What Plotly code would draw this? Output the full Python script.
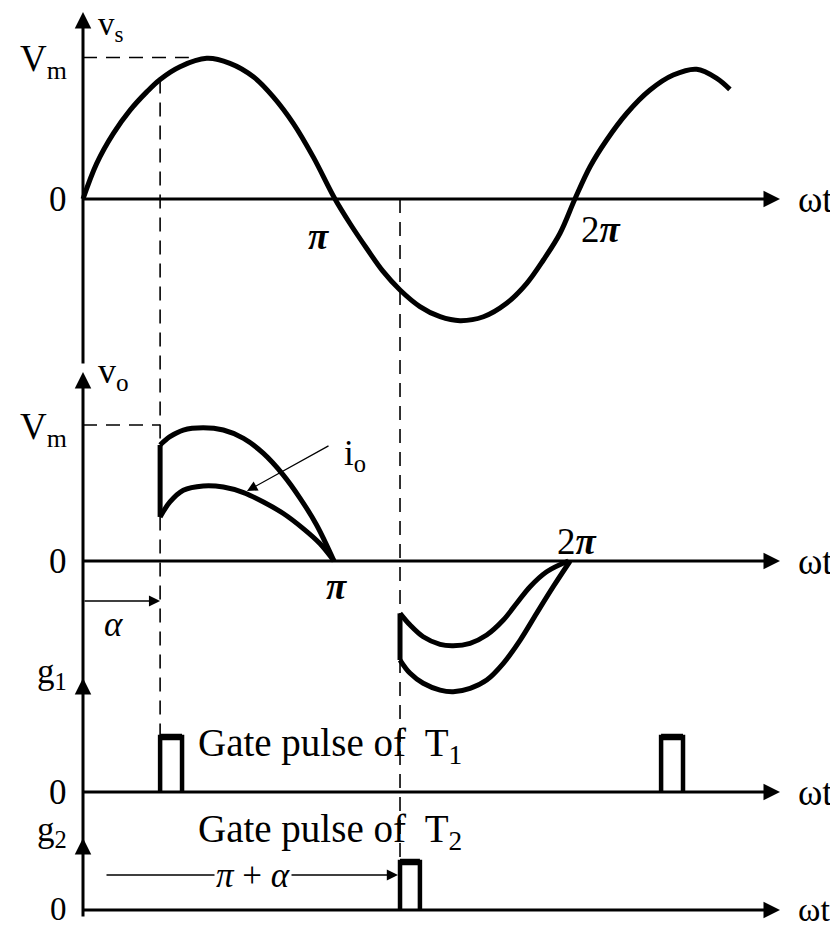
import plotly.graph_objects as go

# The page body has an 8px default margin, so the figure is drawn 8px in from the corner.
PAGE_MARGIN = 8
W, H = 838 - PAGE_MARGIN, 928 - PAGE_MARGIN
FONT = "Liberation Serif"

# ---------------- data (x in units of pi, y in panel units) ----------------
vs_x = [0.0, 0.054, 0.120, 0.187, 0.253, 0.306, 0.385, 0.491, 0.583, 0.676, 0.755,
        0.835, 0.914, 1.0, 1.060, 1.126, 1.190, 1.258, 1.337, 1.417, 1.496, 1.589, 1.681,
        1.761, 1.827, 1.893, 1.952, 2.012, 2.078, 2.158, 2.250, 2.342, 2.435, 2.515, 2.567]
vs_y = [0.0, 0.25, 0.462, 0.628, 0.757, 0.845, 0.935, 0.994, 0.959, 0.864, 0.722,
        0.533, 0.296, 0.0, -0.175, -0.350, -0.510, -0.643, -0.760, -0.832, -0.860, -0.832, -0.737,
        -0.596, -0.431, -0.242, 0.0, 0.228, 0.417, 0.606, 0.770, 0.876, 0.917, 0.853, 0.775]

vo_pos_x = [0.306, 0.345, 0.398, 0.477, 0.557, 0.637, 0.716, 0.795, 0.861, 0.927, 0.996]
vo_pos_y = [0.853, 0.914, 0.963, 0.980, 0.963, 0.902, 0.791, 0.632, 0.463, 0.265, 0.0]
io_pos_x = [0.306, 0.345, 0.398, 0.477, 0.557, 0.637, 0.716, 0.795, 0.874, 0.940, 0.996]
io_pos_y = [0.324, 0.434, 0.520, 0.552, 0.544, 0.503, 0.434, 0.349, 0.238, 0.128, 0.0]

vo_neg_x = [1.258, 1.298, 1.350, 1.417, 1.469, 1.536, 1.602, 1.668, 1.735, 1.800, 1.866, 1.933]
vo_neg_y = [-0.728, -0.826, -0.899, -0.949, -0.961, -0.936, -0.875, -0.752, -0.581, -0.385, -0.189, 0.0]
io_neg_x = [1.258, 1.298, 1.350, 1.417, 1.469, 1.536, 1.602, 1.668, 1.721, 1.774, 1.840, 1.926]
io_neg_y = [-0.385, -0.471, -0.557, -0.613, -0.623, -0.605, -0.544, -0.434, -0.311, -0.189, -0.079, 0.0]

alpha = 0.306            # firing angle of T1 (in pi units)
pi_plus_alpha = 1.258    # firing angle of T2 (as drawn)
vs_at_alpha = 0.845      # where the alpha guide meets vs
vm_guide_end = 0.42      # end of the Vm guide in the vs panel

g1_pulse_start = [0.306, 2.294]
g1_pulse_width = 0.087
g2_pulse_start = [1.258]
g2_pulse_width = 0.079
pulse_height = 1.0

# ---------------- layout geometry (window pixels) ----------------
X0_PX, PX_PER_PI = 83, 252
panels = {            # zero line pixel, pixels per unit
    "vs": (199, 141.5),
    "vo": (561, 136.0),
    "g1": (792, 55.0),
    "g2": (910, 48.0),
}
axis_names = {"vs": "y", "vo": "y2", "g1": "y3", "g2": "y4"}
layout_keys = {"vs": "yaxis", "vo": "yaxis2", "g1": "yaxis3", "g2": "yaxis4"}


def px(panel, v):
    z, u = panels[panel]
    return z - v * u


def val(panel, p):
    z, u = panels[panel]
    return (z - p) / u


def xval(p):
    return (p - X0_PX) / PX_PER_PI


fig = go.Figure()
BLACK = "black"


def line(x, y, panel, width=5, dash=None, shape="linear"):
    fig.add_trace(go.Scatter(
        x=x, y=y, yaxis=axis_names[panel], mode="lines",
        line=dict(color=BLACK, width=width, dash=dash, shape=shape),
        hoverinfo="skip", showlegend=False, cliponaxis=False))


DASH = "14px,9px"
# guides
line([0, vm_guide_end], [1, 1], "vs", width=1.6, dash=DASH)
line([alpha, alpha], [vs_at_alpha, val("vs", px("g1", pulse_height))], "vs", width=1.6, dash=DASH)
line([0, alpha], [1, 1], "vo", width=1.6, dash=DASH)
line([pi_plus_alpha, pi_plus_alpha], [0, val("vs", px("g2", pulse_height))], "vs", width=1.6, dash=DASH)

# supply voltage
line(vs_x, vs_y, "vs", width=5, shape="spline")

# output voltage / current, positive half
line([alpha, alpha], [io_pos_y[0], vo_pos_y[0]], "vo", width=5)
line(vo_pos_x, vo_pos_y, "vo", width=5, shape="spline")
line(io_pos_x, io_pos_y, "vo", width=5, shape="spline")
# negative half
line([pi_plus_alpha, pi_plus_alpha], [vo_neg_y[0], io_neg_y[0]], "vo", width=5)
line(vo_neg_x, vo_neg_y, "vo", width=5, shape="spline")
line(io_neg_x, io_neg_y, "vo", width=5, shape="spline")

# gate pulses
for s in g1_pulse_start:
    line([s, s, s + g1_pulse_width, s + g1_pulse_width], [0, pulse_height, pulse_height, 0], "g1", width=4.5)
    line([s, s + g1_pulse_width], [pulse_height, pulse_height], "g1", width=6.5)
for s in g2_pulse_start:
    line([s, s, s + g2_pulse_width, s + g2_pulse_width], [0, pulse_height, pulse_height, 0], "g2", width=4.5)
    line([s, s + g2_pulse_width], [pulse_height, pulse_height], "g2", width=6.5)

annotations = []


def arrow(x_tip, y_tip, x_tail, y_tail, panel, width=3, size=1.1, head=2):
    yr = axis_names[panel]
    annotations.append(dict(
        x=x_tip, y=y_tip, ax=x_tail, ay=y_tail, xref="x", yref=yr, axref="x", ayref=yr,
        text="", showarrow=True, arrowhead=head, arrowsize=size, arrowwidth=width,
        arrowcolor=BLACK, standoff=0, startstandoff=0))


def label(x, y, text, panel, size=34, xanchor="center", yanchor="middle", xshift=0, yshift=0):
    annotations.append(dict(
        x=x, y=y, xref="x", yref=axis_names[panel], text=text, showarrow=False,
        xanchor=xanchor, yanchor=yanchor, xshift=xshift, yshift=yshift,
        font=dict(family=FONT, size=size, color=BLACK)))


# vertical axes (tail pixel, tip pixel)
v_axes = {"vs": (365, 12), "vo": (695, 372), "g1": (850, 678), "g2": (918, 838)}
for p, (tail, tip) in v_axes.items():
    arrow(0, val(p, tip), 0, val(p, tail), p)

# horizontal time axes
X_TIP = xval(780)
for p in panels:
    arrow(X_TIP, 0, -0.004, 0, p)

# thin arrows
arrow(xval(247), val("vo", 491), xval(330), val("vo", 445), "vo", width=1.3, size=1.6)
arrow(alpha, val("vo", 601), 0, val("vo", 601), "vo", width=1.4, size=1.6)
arrow(pi_plus_alpha - 0.008, val("g2", 875), xval(105), val("g2", 875), "g2", width=1.4, size=1.6)

LX = xval(69)
ZS, PS, WS = 35, 37, 37
# vs panel labels
label(xval(96), val("vs", 26), "v<sub>s</sub>", "vs", size=33, xanchor="left")
label(LX, 1, "V<sub>m</sub>", "vs", size=37, xanchor="right", yshift=-4)
label(LX, 0, "0", "vs", size=ZS, xanchor="right")
label(xval(318), val("vs", 236), "<b><i>π</i></b>", "vs", size=PS)
label(xval(601), val("vs", 229), "2<b><i>π</i></b>", "vs", size=PS)
label(xval(796), 0, "ωt", "vs", size=WS, xanchor="left")

# vo panel labels
label(xval(96), val("vo", 373), "v<sub>o</sub>", "vo", size=36, xanchor="left")
label(LX, 1, "V<sub>m</sub>", "vo", size=37, xanchor="right", yshift=-4)
label(LX, 0, "0", "vo", size=ZS, xanchor="right")
label(xval(336), val("vo", 586), "<b><i>π</i></b>", "vo", size=PS)
label(xval(577), val("vo", 541), "2<b><i>π</i></b>", "vo", size=PS)
label(xval(796), 0, "ωt", "vo", size=WS, xanchor="left")
label(xval(342), val("vo", 455), "i<sub>o</sub>", "vo", size=35, xanchor="left")
label(xval(113), val("vo", 624), "<i>α</i>", "vo", size=35)

# g1 panel labels
label(LX, val("g1", 673), "g<sub>1</sub>", "g1", size=35, xanchor="right")
label(LX, 0, "0", "g1", size=ZS, xanchor="right")
label(xval(196), val("g1", 745), "Gate pulse of  T<sub>1</sub>", "g1", size=39, xanchor="left")
label(xval(796), 0, "ωt", "g1", size=WS, xanchor="left")

# g2 panel labels
label(LX, val("g2", 831), "g<sub>2</sub>", "g2", size=35, xanchor="right")
label(LX, 0, "0", "g2", size=ZS - 2, xanchor="right", yshift=1)
label(xval(196), val("g2", 831), "Gate pulse of  T<sub>2</sub>", "g2", size=39, xanchor="left")
label(xval(796), 0, "ωt", "g2", size=WS - 3, xanchor="left", yshift=1)
annotations.append(dict(
    x=xval(253), y=val("g2", 875), xref="x", yref="y4", text="<i>π</i> + <i>α</i>",
    showarrow=False, bgcolor="white", font=dict(family=FONT, size=35, color=BLACK)))

# the figure covers window pixels PAGE_MARGIN .. PAGE_MARGIN + size
left, right = PAGE_MARGIN, PAGE_MARGIN + W
top, bottom = PAGE_MARGIN, PAGE_MARGIN + H
layout = dict(
    width=W, height=H, margin=dict(l=0, r=0, t=0, b=0),
    paper_bgcolor="white", plot_bgcolor="white", showlegend=False,
    xaxis=dict(range=[xval(left), xval(right)], visible=False, fixedrange=True),
    annotations=annotations,
)
for p, key in layout_keys.items():
    ax = dict(range=[val(p, bottom), val(p, top)], visible=False, domain=[0, 1], fixedrange=True)
    if key != "yaxis":
        ax["overlaying"] = "y"
    layout[key] = ax
fig.update_layout(**layout)

fig.write_html("out.html")
